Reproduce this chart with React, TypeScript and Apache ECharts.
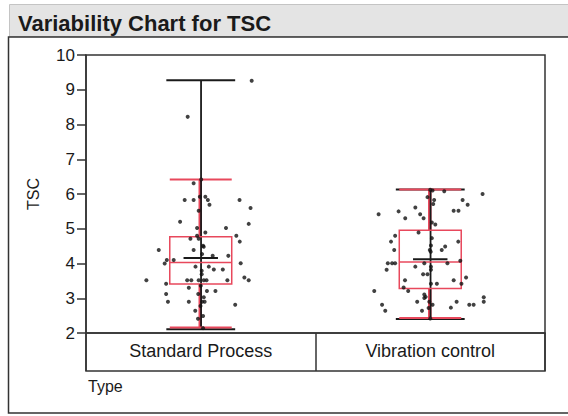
import React, { useEffect, useRef } from "react";
import * as echarts from "echarts";

const chartTitle = "Variability Chart for TSC";
const yName = "TSC";
const xName = "Type";
const categories = ["Standard Process", "Vibration control"];

// Summary statistics per category
const rangeMin = [2.14, 2.43];
const rangeMax = [9.27, 6.13];
const whiskerLow = [2.16, 2.43];
const whiskerHigh = [6.42, 6.13];
const q1 = [3.41, 3.28];
const median = [4.03, 4.04];
const q3 = [4.77, 4.96];
const mean = [4.16, 4.12];

// Standard Process points: jitter (fraction of category width) and TSC value
const stdJitter = [
  0.222, -0.057, -0.031, -0.07, -0.031, -0.004, 0.02, 0.031, 0.038, 0.169, 0.217, -0.009,
  -0.09, 0.209, -0.016, 0.11, 0.02, -0.016, 0.155, -0.045, -0.009, 0.17, -0.183, -0.031,
  0.013, 0.006, 0.052, 0.12, -0.148, -0.118, -0.157, 0.174, -0.023, 0.035, 0.057, 0.096,
  0.004, 0.004, -0.237, -0.151, -0.059, -0.041, -0.009, 0.013, 0.025, 0.116, 0.19, 0.209,
  -0.052, 0.027, 0.064, -0.151, -0.011, 0.013, -0.143, -0.052, 0.006, 0.017, 0.15, -0.001,
  -0.024, 0.01, -0.012, 0.01, 0.01, 0.0, 0.002,
];
const stdValues = [
  9.26, 8.22, 6.31, 5.83, 5.83, 5.92, 5.92, 5.83, 5.69, 5.83, 5.6, 5.52,
  5.2, 5.14, 5.02, 5.02, 4.89, 4.8, 4.8, 4.71, 4.71, 4.63, 4.39, 4.39,
  4.48, 4.27, 4.22, 4.22, 4.1, 4.1, 4.0, 4.01, 3.91, 3.91, 3.83, 3.83,
  3.79, 3.69, 3.52, 3.42, 3.52, 3.52, 3.52, 3.52, 3.52, 3.52, 3.6, 3.52,
  3.3, 3.21, 3.21, 3.12, 3.12, 3.03, 2.9, 2.9, 2.9, 2.9, 2.81, 2.78,
  2.64, 2.49, 2.41, 2.14, 4.51, 3.36, 6.42,
];

// Vibration control points
const vibJitter = [
  0.01, 0.061, -0.012, 0.017, 0.013, 0.228, 0.141, 0.163, -0.225, -0.138, -0.065, -0.044,
  -0.029, -0.109, 0.102, 0.123, 0.007, 0.022, -0.051, -0.153, -0.171, -0.157, 0.007, 0.003,
  0.065, 0.05, -0.002, 0.002, 0.122, -0.185, -0.166, -0.153, -0.19, -0.065, -0.026, 0.075,
  0.131, 0.003, 0.003, -0.031, -0.012, -0.11, 0.102, 0.156, 0.029, 0.003, 0.136, -0.116,
  -0.096, -0.244, -0.026, -0.02, -0.026, -0.057, 0.115, -0.21, -0.196, 0.01, -0.007, -0.036,
  0.09, 0.17, 0.189, 0.233, 0.233, -0.004, 0.0, 0.0,
];
const vibValues = [
  6.1, 6.08, 5.91, 5.83, 5.71, 6.0, 5.83, 5.69, 5.42, 5.5, 5.61, 5.42,
  5.3, 5.3, 5.52, 5.52, 5.18, 5.12, 4.89, 4.8, 4.63, 4.39, 4.73, 4.52,
  4.49, 4.39, 4.39, 4.34, 4.63, 4.01, 4.01, 4.01, 3.82, 3.91, 4.01, 4.01,
  4.08, 3.91, 3.82, 3.69, 3.69, 3.52, 3.52, 3.6, 3.42, 3.42, 3.42, 3.31,
  3.21, 3.21, 3.11, 3.04, 3.01, 2.9, 2.9, 2.81, 2.64, 2.81, 2.72, 2.64,
  2.73, 2.81, 2.81, 3.03, 2.9, 2.9, 2.42, 6.12,
];

const FONT = "'Liberation Sans', Arial, sans-serif";
const RED = "#e8485c";
const DARK = "#1a1a1a";

export default function App() {
  const ref = useRef<HTMLDivElement>(null);

  useEffect(() => {
    if (!ref.current) return;
    const chart = echarts.init(ref.current, undefined, { renderer: "svg" });

    const points = [
      ...stdValues.map((v, i) => [0.5 + stdJitter[i], v]),
      ...vibValues.map((v, i) => [1.5 + vibJitter[i], v]),
    ];
    const boxData = categories.map((_, i) => [
      i + 0.5,
      rangeMin[i],
      rangeMax[i],
      whiskerLow[i],
      whiskerHigh[i],
      q1[i],
      median[i],
      q3[i],
      mean[i],
    ]);

    const renderItem = (params: any, api: any) => {
      const cx = api.value(0);
      const c = (v: number) => api.coord([cx, v]);
      const px = c(0)[0];
      const unit = api.size([1, 0])[0];
      const boxHalf = unit * 0.135;
      const redCapHalf = unit * 0.135;
      const blackCapHalf = unit * 0.15;
      const meanHalf = unit * 0.075;
      const yMin = c(api.value(1))[1];
      const yMax = c(api.value(2))[1];
      const yWl = c(api.value(3))[1];
      const yWh = c(api.value(4))[1];
      const yQ1 = c(api.value(5))[1];
      const yMed = c(api.value(6))[1];
      const yQ3 = c(api.value(7))[1];
      const yMean = c(api.value(8))[1];
      const line = (x1: number, y1: number, x2: number, y2: number, color: string, w: number) => ({
        type: "line",
        shape: { x1, y1, x2, y2 },
        style: { stroke: color, lineWidth: w },
      });
      return {
        type: "group",
        children: [
          // red whiskers
          line(px - 0.5, yQ3, px - 0.5, yWh, RED, 3.5),
          line(px - 0.5, yQ1, px - 0.5, yWl, RED, 3.5),
          // black range line and caps
          line(px + 0.3, yMax, px + 0.3, yMin, DARK, 1.8),
          line(px - blackCapHalf, yMax, px + blackCapHalf, yMax, DARK, 2),
          line(px - blackCapHalf, yMin + 1, px + blackCapHalf, yMin + 1, DARK, 2),
          // red caps
          line(px - redCapHalf, yWh, px + redCapHalf, yWh, RED, 2),
          line(px - redCapHalf, yWl, px + redCapHalf, yWl, RED, 2),
          // box
          {
            type: "rect",
            shape: { x: px - boxHalf, y: yQ3, width: boxHalf * 2, height: yQ1 - yQ3 },
            style: { fill: "none", stroke: RED, lineWidth: 1.5 },
          },
          line(px - boxHalf, yMed, px + boxHalf, yMed, RED, 1.5),
          // mean
          line(px - meanHalf, yMean, px + meanHalf, yMean, DARK, 2),
        ],
      };
    };

    chart.setOption({
      animation: false,
      textStyle: { fontFamily: FONT },
      title: {
        text: chartTitle,
        left: 13,
        top: 7,
        z: 10,
        textStyle: { fontFamily: FONT, fontSize: 22, fontWeight: "bold", color: DARK },
      },
      graphic: [
        {
          type: "rect",
          z: -10,
          shape: { x: 9.5, y: 4.5, width: 570, height: 32 },
          style: { fill: "#e4e4e4", stroke: "#c4c4c4", lineWidth: 1 },
        },
        {
          type: "rect",
          z: -10,
          shape: { x: 8.5, y: 37, width: 570, height: 376 },
          style: { fill: "#ffffff", stroke: "#333333", lineWidth: 1.5 },
        },
        {
          type: "text",
          left: 88,
          top: 378,
          style: { text: xName, fontFamily: FONT, fontSize: 16, fill: DARK },
        },
      ],
      grid: [
        {
          left: 86,
          top: 55,
          width: 459,
          height: 278,
          show: true,
          borderColor: "#333333",
          borderWidth: 1.5,
          backgroundColor: "transparent",
        },
        {
          left: 86,
          top: 333,
          width: 459,
          height: 38,
          show: true,
          borderColor: "#333333",
          borderWidth: 1.5,
          backgroundColor: "transparent",
        },
      ],
      xAxis: [
        {
          gridIndex: 0,
          type: "value",
          min: 0,
          max: 2,
          show: false,
        },
        {
          gridIndex: 1,
          type: "category",
          data: categories,
          boundaryGap: true,
          axisLine: { show: false },
          axisTick: { show: false },
          splitLine: { show: true, lineStyle: { color: "#333333", width: 1.5 } },
          axisLabel: { fontSize: 18, color: DARK, margin: -29, fontFamily: FONT },
        },
      ],
      yAxis: [
        {
          gridIndex: 0,
          type: "value",
          min: 2,
          max: 10,
          interval: 1,
          name: yName,
          nameLocation: "middle",
          nameRotate: 90,
          nameGap: 45,
          nameTextStyle: { fontSize: 16, color: DARK, fontFamily: FONT },
          axisLine: { show: true, lineStyle: { color: "#333333", width: 1.5 } },
          axisTick: { show: true, length: 9, lineStyle: { color: "#333333", width: 1.5 } },
          axisLabel: { fontSize: 17, color: DARK, margin: 11, fontFamily: FONT },
          splitLine: { show: false },
        },
        {
          gridIndex: 1,
          type: "value",
          show: false,
        },
      ],
      series: [
        {
          type: "custom",
          xAxisIndex: 0,
          yAxisIndex: 0,
          renderItem,
          data: boxData,
          z: 2,
        },
        {
          type: "scatter",
          xAxisIndex: 0,
          yAxisIndex: 0,
          data: points,
          symbol: "circle",
          symbolSize: 4,
          itemStyle: { color: "#111111" },
          z: 3,
        },
      ],
    });

    return () => chart.dispose();
  }, []);

  return (
    <div
      ref={ref}
      style={{ position: "fixed", left: 0, top: 0, width: 568, height: 416, background: "#ffffff" }}
    />
  );
}
